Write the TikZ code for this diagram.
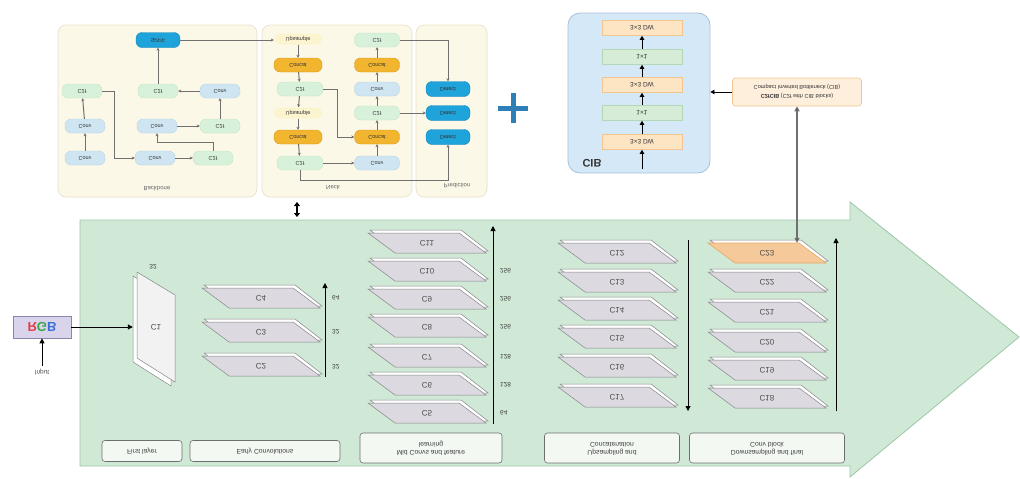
\documentclass[tikz,border=0pt]{standalone}
\usepackage{fontspec}
\setmainfont{Liberation Sans}
\usepackage{graphicx}
\usetikzlibrary{arrows.meta,positioning}

\definecolor{panelfill}{HTML}{FBF8E8}
\definecolor{panelline}{HTML}{E6E0C6}
\definecolor{c2ffill}{HTML}{D8F1DA}
\definecolor{c2fline}{HTML}{C4E4C6}
\definecolor{convfill}{HTML}{CFE6F2}
\definecolor{convline}{HTML}{B6D4E4}
\definecolor{headfill}{HTML}{1EA3DA}
\definecolor{headline}{HTML}{1486B8}
\definecolor{catfill}{HTML}{F2B530}
\definecolor{catline}{HTML}{DB9B1A}
\definecolor{upfill}{HTML}{FCF3CF}
\definecolor{flowgray}{HTML}{707070}
\definecolor{plusblue}{HTML}{2E7FB8}
\definecolor{cibfill}{HTML}{D5E8F8}
\definecolor{cibline}{HTML}{A6C2DA}
\definecolor{dwfill}{HTML}{FDE5C4}
\definecolor{dwline}{HTML}{F0C68E}
\definecolor{pwfill}{HTML}{D6ECD7}
\definecolor{pwline}{HTML}{B3D8B6}
\definecolor{arrowfill}{HTML}{CFE9D6}
\definecolor{arrowline}{HTML}{9EC6A8}
\definecolor{slabgray}{HTML}{DCDAE0}
\definecolor{slabline}{HTML}{86868A}
\definecolor{hotfill}{HTML}{F6C99A}
\definecolor{hotline}{HTML}{E9A765}
\definecolor{lblfill}{HTML}{F3F8F3}
\definecolor{lblline}{HTML}{6E6E6E}
\definecolor{rgbfill}{HTML}{D9D4EC}
\definecolor{rgbline}{HTML}{8A88AA}
\definecolor{rgbred}{HTML}{E0404A}
\definecolor{rgbgreen}{HTML}{3AA84A}
\definecolor{rgbblue}{HTML}{3A6ED8}

\newcommand{\flip}[1]{\scalebox{1}[-1]{#1}}

% feature slab: [face style] name, centre, label
\newcommand{\featslab}[4][slabface]{%
  \begin{scope}[shift={(#3)}]
    \draw[slabback] (-57,-13) -- (34,-13) -- (61,8) -- (-30,8) -- cycle;
    \draw[#1] (-59,-10) -- (32,-10) -- (59,10) -- (-32,10) -- cycle;
  \end{scope}
  \node[slabtext] (#2) at (#3) {\flip{#4}};
}

\tikzset{
  panel/.style={draw=panelline, fill=panelfill, rounded corners=8pt, line width=0.6pt},
  blk/.style={rounded corners=6pt, minimum width=40pt, minimum height=14pt, inner sep=1pt,
    line width=0.4pt, text=black!80, font=\fontsize{5.5}{6}\selectfont},
  c2f/.style={blk, fill=c2ffill, draw=c2fline},
  conv/.style={blk, fill=convfill, draw=convline},
  headblk/.style={blk, fill=headfill, draw=headline, minimum width=44pt, minimum height=15pt},
  concat/.style={blk, fill=catfill, draw=catline, minimum width=48pt},
  upsm/.style={blk, fill=upfill, minimum width=48pt, minimum height=11pt},
  flow/.style={draw=flowgray, line width=1pt, -{Stealth[length=3pt,width=3pt]}},
  cibbox/.style={draw=cibline, fill=cibfill, rounded corners=12pt, line width=0.8pt,
    minimum width=142pt, minimum height=160pt},
  dwbox/.style={draw=dwline, fill=dwfill, minimum width=80pt, minimum height=15pt,
    inner sep=1pt, line width=0.6pt, text=black!80, font=\fontsize{6.5}{7}\selectfont},
  pwbox/.style={dwbox, draw=pwline, fill=pwfill},
  cibflow/.style={line width=0.8pt, -{Triangle[length=4pt,width=4.5pt]}},
  biflow/.style={draw=flowgray, line width=1.2pt,
    {Triangle[length=5pt,width=5pt,fill=black]}-{Triangle[length=5pt,width=5pt,fill=black]}},
  slabback/.style={draw=slabline, fill=white, line width=0.5pt},
  slabface/.style={draw=slabline, fill=slabgray, line width=0.5pt},
  hotface/.style={draw=hotline, fill=hotfill, line width=0.6pt},
  slabtext/.style={minimum width=60pt, minimum height=20pt, inner sep=0pt,
    text=black!70, font=\fontsize{8}{9}\selectfont},
  chan/.style={anchor=west, inner sep=0pt, text=black!75, font=\fontsize{6.5}{7}\selectfont},
  mainflow/.style={line width=0.9pt, -{Triangle[length=5pt,width=5pt]}},
  stagelbl/.style={draw=lblline, fill=lblfill, rounded corners=3pt, line width=0.6pt,
    align=center, inner sep=1pt, font=\fontsize{6.8}{8}\selectfont, text=black!75}
}

\begin{document}
\begin{tikzpicture}[x=1pt, y=-1pt, >=Stealth, font=\fontsize{5}{6}\selectfont]
  \useasboundingbox (0,0) rectangle (1020,479);

  % YOLO overview panels
  \draw[panel] (58,25) rectangle (257,197);
  \draw[panel] (262,25) rectangle (412,197);
  \draw[panel] (416,25) rectangle (487,197);
  \node[text=black!60, font=\fontsize{6}{7}\selectfont] (bbname) at (157,189) {\flip{Backbone}};
  \node[text=black!60, font=\fontsize{6}{7}\selectfont] (nkname) at (333,188) {\flip{Neck}};
  \node[text=black!60, font=\fontsize{6}{7}\selectfont] (prname) at (457,186) {\flip{Prediction}};

  % Backbone
  \node[headblk] (sppf) at (158,40) {\flip{SPPF}};
  \node[c2f]  (bc1) at (82,91)   {\flip{C2f}};
  \node[conv] (bv1) at (85,126)  {\flip{Conv}};
  \node[conv] (bv0) at (85,158)  {\flip{Conv}};
  \node[conv] (bv2) at (155,158) {\flip{Conv}};
  \node[c2f]  (bc2) at (213,158) {\flip{C2f}};
  \node[conv] (bv3) at (157,126) {\flip{Conv}};
  \node[c2f]  (bc3) at (220,126) {\flip{C2f}};
  \node[conv] (bv4) at (220,91)  {\flip{Conv}};
  \node[c2f]  (bc4) at (158,91)  {\flip{C2f}};

  \draw[flow] (bv0) -- (bv1);
  \draw[flow] (bv1) -- (bc1);
  \draw[flow] (bc1.east) -- ++(12,0) |- (bv2.west);
  \draw[flow] (bv2) -- (bc2);
  \draw[flow] (bc2.north) -- ++(0,-8) -| (bv3.south);
  \draw[flow] (bv3) -- (bc3);
  \draw[flow] (bc3) -- (bv4);
  \draw[flow] (bv4) -- (bc4);
  \draw[flow] (bc4) -- (sppf);

  % Neck
  \node[upsm]   (nu1) at (298,39)  {\flip{Upsample}};
  \node[concat] (nk1) at (298,65)  {\flip{Concat}};
  \node[c2f, minimum width=46pt] (nc1) at (300,89)  {\flip{C2f}};
  \node[upsm]   (nu2) at (298,113) {\flip{Upsample}};
  \node[concat] (nk2) at (298,137) {\flip{Concat}};
  \node[c2f, minimum width=46pt] (nc2) at (300,163) {\flip{C2f}};
  \node[c2f, minimum width=45pt] (nc3) at (377,40)  {\flip{C2f}};
  \node[concat, minimum width=45pt] (nk3) at (377,65)  {\flip{Concat}};
  \node[conv, minimum width=45pt] (nv1) at (377,89)  {\flip{Conv}};
  \node[c2f, minimum width=45pt] (nc4) at (377,113) {\flip{C2f}};
  \node[concat, minimum width=45pt] (nk4) at (377,137) {\flip{Concat}};
  \node[conv, minimum width=45pt] (nv2) at (377,163) {\flip{Conv}};

  \draw[flow] (sppf.east) -- (sppf.east -| nu1.west);
  \draw[flow] (nu1) -- (nk1);
  \draw[flow] (nk1) -- (nc1);
  \draw[flow] (nc1) -- (nu2);
  \draw[flow] (nu2) -- (nk2);
  \draw[flow] (nk2) -- (nc2);
  \draw[flow] (nc1.east) -- ++(14,0) |- (nk4.west);
  \draw[flow] (nc2) -- (nv2);
  \draw[flow] (nv2) -- (nk4);
  \draw[flow] (nk4) -- (nc4);
  \draw[flow] (nc4) -- (nv1);
  \draw[flow] (nv1) -- (nk3);
  \draw[flow] (nk3) -- (nc3);

  % Prediction
  \node[headblk] (nd1) at (448,89)  {\flip{Detect}};
  \node[headblk] (nd2) at (448,113) {\flip{Detect}};
  \node[headblk] (nd3) at (448,137) {\flip{Detect}};
  \draw[flow] (nc3.east) -| (nd1.north);
  \draw[flow] (nc4) -- (nd2);
  \draw[flow] (nc2.south) -- ++(0,10) -| (nd3.south);

  % Plus
  \draw[plusblue, line width=5pt] (498,108) -- (528,108);
  \draw[plusblue, line width=5pt] (513,93) -- (513,123);

  % CIB block
  \node[cibbox] (cib) at (639,93) {};
  \node[dwbox] (dw1) at (642,28)  {\flip{3×3 DW}};
  \node[pwbox] (pw1) at (642,57)  {\flip{1×1}};
  \node[dwbox] (dw2) at (642,85)  {\flip{3×3 DW}};
  \node[pwbox] (pw2) at (642,113) {\flip{1×1}};
  \node[dwbox] (dw3) at (642,142) {\flip{3×3 DW}};
  \node[font=\bfseries\fontsize{11}{12}\selectfont, text=black!80] (ciblbl) at (592,163) {\flip{CIB}};
  \coordinate (cibin) at (642,169);
  \draw[cibflow] (cibin) -- (dw3);
  \draw[cibflow] (dw3) -- (pw2);
  \draw[cibflow] (pw2) -- (dw2);
  \draw[cibflow] (dw2) -- (pw1);
  \draw[cibflow] (pw1) -- (dw1);

  \node[draw=dwline, fill=dwfill!60, rounded corners=3pt, line width=0.6pt,
    minimum width=129pt, minimum height=28pt, align=center, inner sep=1pt,
    text=black!80, font=\fontsize{5.6}{9}\selectfont] (cfcib) at (797,92)
    {\flip{\begin{tabular}{@{}c@{}}\textbf{C2fCIB} (C2f with CIB blocks)\\
      Compact Inverted Bottleneck (CIB)\end{tabular}}};
  \draw[cibflow] (cfcib.west) -- (cfcib.west -| cib.east);

  % Link between overview and pipeline
  \coordinate (linkt) at (297,202);
  \coordinate (linkb) at (297,217);
  \draw[line width=1.2pt, {Triangle[length=4pt,width=6pt]}-{Triangle[length=4pt,width=6pt]}] (linkt) -- (linkb);

  % Big pipeline arrow
  \draw[draw=arrowline, fill=arrowfill, line width=0.8pt]
    (80,220) -- (850,220) -- (850,202) -- (1019,337) -- (850,477) -- (850,466) -- (80,466) -- cycle;

  % Input
  \node[draw=rgbline, fill=rgbfill, line width=0.7pt, minimum width=58pt, minimum height=22pt,
    inner sep=0pt, font=\bfseries\fontsize{13}{14}\selectfont] (rgb) at (42,327)
    {\flip{\textcolor{rgbred}{R}\textcolor{rgbgreen}{G}\textcolor{rgbblue}{B}}};
  \node[text=black!70, font=\fontsize{6.5}{7}\selectfont] (inp) at (42,372) {\flip{Input}};
  \draw[mainflow] (inp.north) -- (rgb.south);

  % First layer C1
  \draw[slabback] (133,276) -- (171,299) -- (171,386) -- (133,362) -- cycle;
  \draw[draw=slabline, fill=black!5, line width=0.5pt] (137,272) -- (175,295) -- (175,382) -- (137,358) -- cycle;
  \node[slabtext, minimum width=46pt] (c1) at (156,327) {\flip{C1}};
  \node[chan, anchor=center] (c1ch) at (153,267) {\flip{32}};
  \draw[mainflow] (rgb.east) -- (c1.west);

  % Early convolutions
  \foreach \n/\y in {2/366, 3/332, 4/298}
    \featslab{c\n}{261,\y}{C\n};
  \coordinate (g1bot) at (325,377);
  \coordinate (g1top) at (325,283);
  \draw[mainflow] (g1bot) -- (g1top);
  \foreach \y/\ch in {298/64, 332/32, 367/32}
    \node[chan] (e\y) at (332,\y) {\flip{\ch}};

  % Mid convs
  \foreach \n/\y in {5/413, 6/385, 7/357, 8/327, 9/299, 10/271, 11/243}
    \featslab{c\n}{427,\y}{C\n};
  \coordinate (g2bot) at (493,424);
  \coordinate (g2top) at (493,226);
  \draw[mainflow] (g2bot) -- (g2top);
  \foreach \y/\ch in {271/256, 299/256, 327/256, 357/128, 385/128, 413/64}
    \node[chan] (m\y) at (500,\y) {\flip{\ch}};

  % Upsampling and concatenation
  \foreach \n/\y in {12/253, 13/282, 14/310, 15/338, 16/367, 17/397}
    \featslab{c\n}{617,\y}{C\n};
  \coordinate (g3top) at (688,240);
  \coordinate (g3bot) at (688,411);
  \draw[mainflow] (g3top) -- (g3bot);

  % Downsampling and final conv block
  \foreach \n/\y in {18/398, 19/370, 20/342, 21/312, 22/282}
    \featslab{c\n}{767,\y}{C\n};
  \featslab[hotface]{c23}{767,253}{C23};
  \coordinate (g4bot) at (836,411);
  \coordinate (g4top) at (836,238);
  \draw[mainflow] (g4bot) -- (g4top);
  \draw[biflow] (cfcib.south) -- (cfcib.south |- c23.north);

  % Stage labels
  \node[stagelbl, minimum width=80pt, minimum height=21pt] (lb1) at (142,451) {\flip{First layer}};
  \node[stagelbl, minimum width=150pt, minimum height=21pt] (lb2) at (265,451) {\flip{Early Convolutions}};
  \node[stagelbl, minimum width=142pt, minimum height=30pt] (lb3) at (431,448)
    {\flip{\begin{tabular}{@{}c@{}}Mid Convs and feature\\learning\end{tabular}}};
  \node[stagelbl, minimum width=135pt, minimum height=30pt] (lb4) at (612,448)
    {\flip{\begin{tabular}{@{}c@{}}Upsampling and\\Concatenation\end{tabular}}};
  \node[stagelbl, minimum width=155pt, minimum height=30pt] (lb5) at (767,448)
    {\flip{\begin{tabular}{@{}c@{}}Downsampling and final\\Conv block\end{tabular}}};
\end{tikzpicture}
\end{document}
